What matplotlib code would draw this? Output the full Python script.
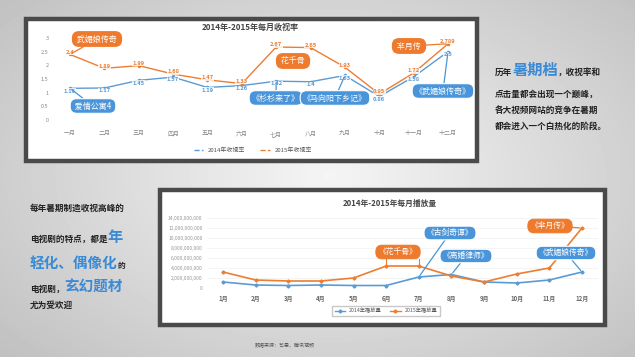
import matplotlib
matplotlib.use('Agg')
import matplotlib.pyplot as plt
import numpy as np
from matplotlib.patches import Rectangle
from matplotlib.lines import Line2D
from matplotlib.ticker import FuncFormatter

plt.rcParams['font.family'] = ['Noto Sans CJK SC', 'DejaVu Sans']

# ---------------- data ----------------
months_cn = ['一月', '二月', '三月', '四月', '五月', '六月', '七月', '八月', '九月', '十月', '十一月', '十二月']
rating_2014 = [1.16, 1.17, 1.45, 1.57, 1.19, 1.26, 1.42, 1.4, 1.63, 0.86, 1.58, 2.5]
rating_2015 = [2.4, 1.89, 1.99, 1.68, 1.47, 1.33, 2.67, 2.65, 1.93, 0.95, 1.72, 2.789]

months_num = ['1月', '2月', '3月', '4月', '5月', '6月', '7月', '8月', '9月', '10月', '11月', '12月']
plays_2014 = [1.2e9, 0.6e9, 0.5e9, 0.6e9, 0.5e9, 0.5e9, 2.2e9, 2.7e9, 1.2e9, 1.0e9, 1.6e9, 3.2e9]
plays_2015 = [3.2e9, 1.6e9, 1.4e9, 1.4e9, 2.0e9, 4.4e9, 4.4e9, 2.4e9, 1.2e9, 2.8e9, 4.0e9, 12.0e9]
plays_ticks = [0, 2e9, 4e9, 6e9, 8e9, 10e9, 12e9, 14e9]

title_top = '2014年-2015年每月收视率'
title_bottom = '2014年-2015年每月播放量'
legend_top = ['2014年收视率', '2015年收视率']
legend_bottom = ['2014年播放量', '2015年播放量']
source_text = '数据来源：艺恩、腾讯视频'

BLUE = '#5b9bd5'
ORANGE = '#ed7d31'
BOX_BLUE = '#4a95d9'
BOX_ORANGE = '#ee7a2e'
TXT_BLUE = '#3a8ad6'

W, H = 635, 357
fig = plt.figure(figsize=(6.35, 3.57), dpi=100)


def fx(x):
    return x / W


def fy(y):
    return 1 - y / H


# ---------------- background ----------------
bg = fig.add_axes([0, 0, 1, 1], zorder=-10)
yy, xx = np.mgrid[0:H, 0:W]
d = np.sqrt(((xx - 330) / 430.0) ** 2 + ((yy - 175) / 260.0) ** 2)
img = 0.96 - 0.2 * np.clip(d, 0, 1.3)
bg.imshow(img, cmap='gray', vmin=0, vmax=1, aspect='auto', extent=[0, 1, 0, 1])
bg.axis('off')


def panel(x0, y0, x1, y1):
    r = Rectangle((fx(x0), fy(y1)), fx(x1) - fx(x0), fy(y0) - fy(y1),
                  transform=fig.transFigure, facecolor='white',
                  edgecolor='#4a4a4a', linewidth=3.2, zorder=-5)
    fig.add_artist(r)


panel(26, 19, 477, 161)
panel(160, 190, 605, 325)

# ---------------- top chart ----------------
ax1 = fig.add_axes([fx(52.8), fy(120), (465.2 - 52.8) / W, (120 - 38) / H])
ax1.patch.set_alpha(0)
x = np.arange(len(months_cn))
ax1.plot(x, rating_2014, color=BLUE, lw=1.0, marker='o', ms=1.5, zorder=2)
ax1.plot(x, rating_2015, color=ORANGE, lw=1.0, marker='o', ms=1.5, zorder=2)
for i, v in enumerate(rating_2015):
    ax1.annotate(f'{v:g}', (i, v), xytext=(0, 1.5), textcoords='offset points',
                 ha='center', va='center', fontsize=4.2, color=ORANGE,
                 fontweight='bold', zorder=4,
                 bbox=dict(facecolor='white', edgecolor='none', pad=0.2, alpha=0.8))
for i, v in enumerate(rating_2014):
    ax1.annotate(f'{v:g}', (i, v), xytext=(0, -2), textcoords='offset points',
                 ha='center', va='center', fontsize=4.2, color=BLUE,
                 fontweight='bold', zorder=4,
                 bbox=dict(facecolor='white', edgecolor='none', pad=0.2, alpha=0.8))
ax1.set_xlim(-0.5, 11.5)
ax1.set_ylim(0, 3)
ax1.set_xticks(x)
ax1.set_xticklabels(months_cn, fontsize=4.3, color='#888')
ax1.set_yticks([0, 0.5, 1, 1.5, 2, 2.5, 3])
ax1.set_yticklabels(['0', '0.5', '1', '1.5', '2', '2.5', '3'], fontsize=4, color='#888')
ax1.tick_params(length=0, pad=3)
ax1.tick_params(axis='x', pad=8)
for s in ax1.spines.values():
    s.set_visible(False)

fig.text(fx(250), fy(27), title_top, fontsize=5.8, fontweight='bold', color='#444',
         ha='center', va='center')

fig.legend([Line2D([], [], color=BLUE, lw=1, ls='--'), Line2D([], [], color=ORANGE, lw=1, ls='--')],
           legend_top, loc='center', bbox_to_anchor=(fx(253), fy(150)), ncol=2,
           frameon=False, fontsize=4.3, handlelength=1.6, columnspacing=2.5,
           labelcolor='#555')


def box(ax, text, xy, pos, kind, point=True, fs=5.8):
    fc = BOX_ORANGE if kind == 'o' else BOX_BLUE
    ec = fc if kind == 'o' else 'white'
    ap = dict(arrowstyle='-', color=fc, lw=0.9, shrinkA=0, shrinkB=1.5) if point else None
    ax.annotate(text, xy=xy, xycoords='data', xytext=(pos[0], H - pos[1]),
                textcoords='figure pixels', ha='center', va='center',
                fontsize=fs, color='white', zorder=6, annotation_clip=False,
                bbox=dict(boxstyle='round,pad=0.35,rounding_size=0.8', fc=fc, ec=ec, lw=0.8),
                arrowprops=ap)


box(ax1, ' 武媚娘传奇 ', (0, rating_2015[0]), (97, 39), 'o')
box(ax1, ' 爱情公寓4 ', (0, rating_2014[0]), (93, 106), 'b')
box(ax1, ' 花千骨 ', (6.5, rating_2015[6]), (293, 61), 'o', point=False)
box(ax1, '《杉杉来了》', (6, rating_2014[6]), (276, 98), 'b')
box(ax1, '《马向阳下乡记》', (8, rating_2014[8]), (335, 98), 'b')
box(ax1, ' 芈月传 ', (11, rating_2015[11]), (409, 46), 'o')
box(ax1, '《武媚娘传奇》', (11, rating_2014[11]), (443, 91), 'b')

# ---------------- bottom chart ----------------
ax2 = fig.add_axes([fx(206.7), fy(288), (598.3 - 206.7) / W, (288 - 218) / H])
ax2.patch.set_alpha(0)
x2 = np.arange(len(months_num))
ax2.plot(x2, plays_2014, color=BLUE, lw=1.2, marker='D', ms=1.6, zorder=3)
ax2.plot(x2, plays_2015, color=ORANGE, lw=1.2, marker='D', ms=1.6, zorder=3)
ax2.set_xlim(-0.5, 11.5)
ax2.set_ylim(0, 14e9)
ax2.set_yticks(plays_ticks)
ax2.yaxis.set_major_formatter(FuncFormatter(lambda v, p: f'{int(v):,}'))
ax2.tick_params(axis='y', labelsize=3.6, labelcolor='#999', length=0, pad=3)
ax2.set_xticks(x2)
ax2.set_xticklabels(months_num, fontsize=4.3, color='#666', fontweight='bold')
ax2.tick_params(axis='x', length=0, pad=5)
ax2.grid(axis='y', color='#f0f0f0', lw=0.5)
ax2.set_axisbelow(True)
for s in ax2.spines.values():
    s.set_visible(False)

fig.text(fx(390), fy(203), title_bottom, fontsize=5.6, fontweight='bold', color='#444',
         ha='center', va='center')

fig.legend([Line2D([], [], color=BLUE, lw=1, marker='D', ms=1.6),
            Line2D([], [], color=ORANGE, lw=1, marker='D', ms=1.6)],
           legend_bottom, loc='center', bbox_to_anchor=(fx(386), fy(311)), ncol=2,
           frameon=True, fancybox=False, edgecolor='#bbbbbb', fontsize=3.8,
           handlelength=2.0, columnspacing=1.5, labelcolor='#555', borderpad=0.5)

box(ax2, '《花千骨》', (5.5, plays_2015[5]), (398, 252), 'o', point=False, fs=5.6)
ax2.plot([5, 5], [plays_2015[5], 5.8e9], color=BOX_ORANGE, lw=0.8, zorder=2)
ax2.plot([6, 6], [plays_2015[6], 5.8e9], color=BOX_ORANGE, lw=0.8, zorder=2)
box(ax2, '《古剑奇谭》', (6, plays_2014[6]), (450, 233), 'b', fs=5.6)
box(ax2, '《离婚律师》', (7, plays_2014[7]), (466, 256), 'b', fs=5.6)
box(ax2, '《芈月传》', (11, plays_2015[11]), (550, 226), 'o', fs=5.6)
box(ax2, '《武媚娘传奇》', (11, plays_2014[11]), (566, 253), 'b', fs=5.6)

# ---------------- side texts ----------------
renderer = fig.canvas.get_renderer()


def segs(x0, ybase, parts):
    cx = x0
    for s, size, col, wt in parts:
        t = fig.text(fx(cx), fy(ybase), s, fontsize=size, color=col, fontweight=wt,
                     va='baseline', ha='left')
        cx += t.get_window_extent(renderer=renderer).width


SM = 6.2
DK = '#222222'
right_lines = [
    (75, [('历年', SM, DK, 'bold'), ('暑期档', 11, TXT_BLUE, 'bold'), ('，收视率和', SM, DK, 'bold')]),
    (97, [('点击量都会出现一个巅峰，', SM, DK, 'bold')]),
    (113, [('各大视频网站的竞争在暑期', SM, DK, 'bold')]),
    (129, [('都会进入一个白热化的阶段。', SM, DK, 'bold')]),
]
for yb, parts in right_lines:
    segs(495, yb, parts)

left_lines = [
    (211, [('每年暑期制造收视高峰的', SM, DK, 'bold')]),
    (242, [('电视剧的特点，都是', SM, DK, 'bold'), ('年', 11, TXT_BLUE, 'bold')]),
    (268, [('轻化、偶像化', 10.5, TXT_BLUE, 'bold'), ('的', 5.5, DK, 'bold')]),
    (292, [('电视剧，', SM, DK, 'bold'), ('玄幻题材', 10.5, TXT_BLUE, 'bold')]),
    (308, [('尤为受欢迎', SM, DK, 'bold')]),
]
for yb, parts in left_lines:
    segs(30, yb, parts)

fig.text(fx(285), fy(345), source_text, fontsize=3.6, color='#555', ha='center', va='center')

fig.savefig('out.png', dpi=100)
